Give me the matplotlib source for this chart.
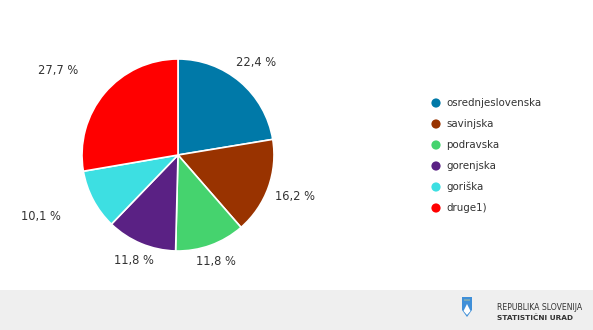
import numpy as np
import matplotlib
matplotlib.use("Agg")
import matplotlib.pyplot as plt
from matplotlib.patches import Rectangle, Polygon, Circle

categories = ["osrednjeslovenska", "savinjska", "podravska", "gorenjska", "goriška", "druge1)"]
values = [22.4, 16.2, 11.8, 11.8, 10.1, 27.7]
colors = ["#0079a8", "#993300", "#45d36e", "#5a2184", "#3ddfe2", "#ff0000"]
label_dist = [1.26, 1.29, 1.18, 1.19, 1.38, 1.36]

W, H = 593, 330
fig = plt.figure(figsize=(W / 100, H / 100), dpi=100)
ax = fig.add_axes([0, 0, 1, 1])

# footer band
ax.add_patch(Rectangle((0, 0), W, 40, facecolor="#efefef", edgecolor="none", zorder=0))

cx, cy, r = 178, H - 155, 96
wedges, _ = ax.pie(values, colors=colors, startangle=90, counterclock=False,
                   center=(cx, cy), radius=r, frame=True,
                   wedgeprops=dict(edgecolor="white", linewidth=1.2))
ax.set_xlim(0, W)
ax.set_ylim(0, H)
ax.set_aspect("equal")
ax.axis("off")

for w, v, d in zip(wedges, values, label_dist):
    th = np.deg2rad((w.theta1 + w.theta2) / 2)
    x = cx + np.cos(th) * r * d
    y = cy + np.sin(th) * r * d
    ha = "right" if np.cos(th) < -0.5 else "center"
    ax.text(x, y, f"{v:.1f}".replace(".", ",") + " %", ha=ha, va="center",
            fontsize=8.3, color="#333333", family="DejaVu Sans")

# legend
for i, (c, name) in enumerate(zip(colors, categories)):
    ly = H - (103 + i * 21)
    ax.add_patch(Circle((436, ly), 4.6, facecolor=c, edgecolor="none"))
    ax.text(446, ly, name, ha="left", va="center", fontsize=7.4, color="#333333",
            family="DejaVu Sans")

# logo
shield = Polygon([(462, H - 297), (472, H - 297), (472, H - 310), (467, H - 317),
                  (462, H - 310)], closed=True, facecolor="#3f8fd8", edgecolor="none")
ax.add_patch(shield)
ax.add_patch(Polygon([(463.5, H - 311), (465.5, H - 307), (467, H - 304), (468.5, H - 307),
                      (470.5, H - 311), (467, H - 315)], closed=True,
                     facecolor="white", edgecolor="none"))
for sx in (465, 467, 469):
    ax.add_patch(Circle((sx, H - 300), 0.6, facecolor="#ffe36b", edgecolor="none"))

ax.text(497, H - 308, "REPUBLIKA SLOVENIJA", ha="left", va="center", fontsize=5.55,
        color="#333333", family="DejaVu Sans")
ax.text(497, H - 317.5, "STATISTIČNI URAD", ha="left", va="center", fontsize=5.3,
        color="#333333", family="DejaVu Sans", fontweight="bold")

fig.savefig("out.png", dpi=100)
